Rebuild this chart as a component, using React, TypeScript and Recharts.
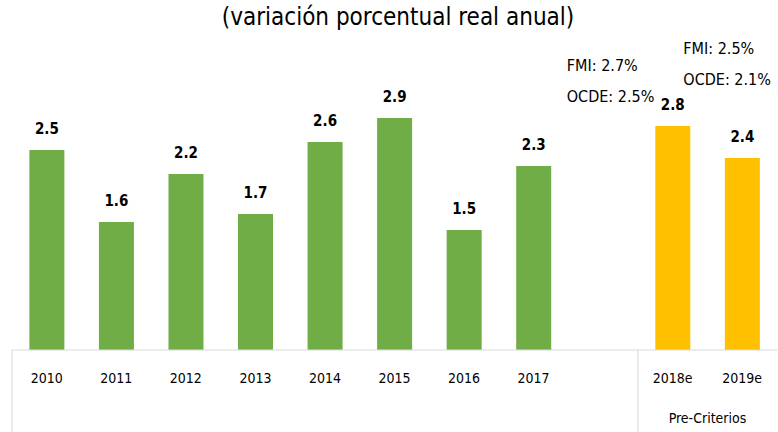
import { BarChart, Bar, XAxis, YAxis, Cell, LabelList } from 'recharts'

const years = ['2010', '2011', '2012', '2013', '2014', '2015', '2016', '2017', '', '2018e', '2019e']
const growth = [2.5, 1.6, 2.2, 1.7, 2.6, 2.9, 1.5, 2.3, null, 2.8, 2.4]
const estimated = [false, false, false, false, false, false, false, false, false, true, true]
const forecasts = [
  { year: '2018e', lines: ['FMI: 2.7%', 'OCDE: 2.5%'], dx: -106, dy: -55 },
  { year: '2019e', lines: ['FMI: 2.5%', 'OCDE: 2.1%'], dx: -59, dy: -104 },
]
const groupLabel = 'Pre-Criterios'
const title = '(variación porcentual real anual)'

const data = years.map((year, i) => ({ year, value: growth[i], est: estimated[i] }))

const FONT = '"DejaVu Sans", sans-serif'
const NARROW = { fontFamily: FONT, fontStretch: 'condensed' as const }
const GRID = '#d9d9d9'
const BAND = 765 / years.length

function YearTick(props: any) {
  const { x, y, payload, index } = props
  const half = BAND / 2
  return (
    <g style={NARROW}>
      {index === 0 && <line x1={x - half} x2={x - half} y1={y - 8} y2={432} stroke={GRID} />}
      {payload.value === '2018e' && (
        <>
          <line x1={x - half} x2={x - half} y1={y - 8} y2={432} stroke={GRID} />
          <text x={x + half} y={y + 65} textAnchor="middle" fontSize={14} fill="#000">
            {groupLabel}
          </text>
        </>
      )}
      <text x={x} y={y + 25} textAnchor="middle" fontSize={14} fill="#000">
        {payload.value}
      </text>
    </g>
  )
}

function ValueLabel(props: any) {
  const { x, y, width, value } = props
  if (value == null) return null
  return (
    <text x={x + width / 2} y={y - 16} textAnchor="middle" fontSize={15} fontWeight="bold" fill="#000" style={NARROW}>
      {value.toFixed(1)}
    </text>
  )
}

function NoteLabel(props: any) {
  const { x, y, width, value } = props
  const note = forecasts.find((f) => f.year === value)
  if (!note) return null
  const left = x + width / 2 + note.dx
  return (
    <text x={left} y={y + note.dy} fontSize={16} fill="#000" style={NARROW}>
      <tspan x={left}>{note.lines[0]}</tspan>
      <tspan x={left} dy={31}>{note.lines[1]}</tspan>
    </text>
  )
}

export default function App() {
  return (
    <div style={{ width: 778, height: 432, background: '#fff', position: 'relative' }}>
      <style>{'body{margin:0}'}</style>
      <div
        style={{
          position: 'absolute',
          top: 3,
          left: 0,
          width: 796,
          textAlign: 'center',
          ...NARROW,
          fontSize: 24,
          color: '#000',
        }}
      >
        {title}
      </div>
      <BarChart
        width={778}
        height={432}
        data={data}
        margin={{ top: 30, right: 1, left: 12, bottom: 0 }}
        barCategoryGap="25%"
      >
        <XAxis
          dataKey="year"
          height={82}
          interval={0}
          tickLine={false}
          axisLine={{ stroke: GRID }}
          tick={<YearTick />}
        />
        <YAxis hide domain={[0, 4]} />
        <Bar dataKey="value" isAnimationActive={false}>
          {data.map((d, i) => (
            <Cell key={i} fill={d.est ? '#ffc000' : '#70ad47'} />
          ))}
          <LabelList dataKey="value" content={<ValueLabel />} />
          <LabelList dataKey="year" content={<NoteLabel />} />
        </Bar>
      </BarChart>
    </div>
  )
}
